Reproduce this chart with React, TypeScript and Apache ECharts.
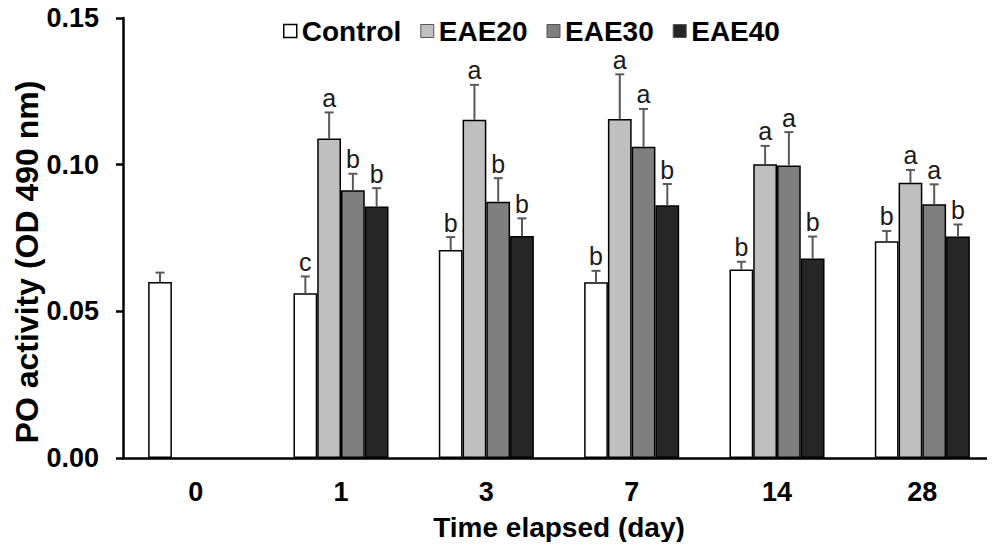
import React, { useEffect, useRef } from "react";
import * as echarts from "echarts";

const categories = ["0", "1", "3", "7", "14", "28"];
const seriesNames = ["Control", "EAE20", "EAE30", "EAE40"];
const controlValues = [0.06, 0.0562, 0.0709, 0.0599, 0.0643, 0.0739];
const eae20Values = [null, 0.1089, 0.1153, 0.1156, 0.1001, 0.0938];
const eae30Values = [null, 0.0913, 0.0874, 0.1061, 0.0997, 0.0865];
const eae40Values = [null, 0.0857, 0.0757, 0.0862, 0.068, 0.0755];
const controlErrors = [0.0032, 0.0057, 0.0044, 0.0039, 0.0026, 0.0035];
const eae20Errors = [null, 0.0089, 0.0119, 0.0152, 0.0063, 0.0044];
const eae30Errors = [null, 0.0056, 0.008, 0.0129, 0.0114, 0.0068];
const eae40Errors = [null, 0.0063, 0.006, 0.0072, 0.0075, 0.0041];
const controlLetters = ["", "c", "b", "b", "b", "b"];
const eae20Letters = ["", "a", "a", "a", "a", "a"];
const eae30Letters = ["", "b", "b", "a", "a", "a"];
const eae40Letters = ["", "b", "b", "b", "b", "b"];
const yTicks = [0, 0.05, 0.1, 0.15];
const yAxisTitle = "PO activity (OD 490 nm)";
const xAxisTitle = "Time elapsed (day)";

const FONT = 'Arial, "Liberation Sans", sans-serif';
const colors = ["#ffffff", "#bfbfbf", "#7f7f7f", "#262626"];
const CAT_GAP = 0.346;

export default function App() {
  const ref = useRef<HTMLDivElement>(null);
  useEffect(() => {
    if (!ref.current) return;
    const chart = echarts.init(ref.current, null, { renderer: "svg" });
    const values = [controlValues, eae20Values, eae30Values, eae40Values];
    const errors = [controlErrors, eae20Errors, eae30Errors, eae40Errors];
    const letters = [controlLetters, eae20Letters, eae30Letters, eae40Letters];

    const barSeries = seriesNames.map((name, i) => ({
      name,
      type: "bar",
      data: values[i],
      barGap: "0%",
      barCategoryGap: CAT_GAP * 100 + "%",
      itemStyle: { color: colors[i], borderColor: "#000", borderWidth: 1.5 },
      z: 2,
    }));

    const errSeries = seriesNames.map((name, i) => ({
      name: "err" + name,
      type: "custom",
      z: 5,
      data: values[i].map((v, k) => (v == null ? [k, null, null] : [k, v, errors[i][k]])),
      encode: { x: 0, y: 1 },
      renderItem: (params: any, api: any) => {
        const v = api.value(1);
        if (v == null || isNaN(v)) return null;
        const e = api.value(2);
        const idx = api.value(0);
        const catW = api.size([1, 0])[0];
        const bw = (catW * (1 - CAT_GAP)) / 4;
        const off = (i - 1.5) * bw;
        const p0 = api.coord([idx, v]);
        const p1 = api.coord([idx, v + e]);
        const x = p0[0] + off;
        const letter = letters[i][params.dataIndex];
        const children: any[] = [
          {
            type: "line",
            shape: { x1: x, y1: p0[1], x2: x, y2: p1[1] },
            style: { stroke: "#595959", lineWidth: 2 },
          },
          {
            type: "line",
            shape: { x1: x - 4.5, y1: p1[1], x2: x + 4.5, y2: p1[1] },
            style: { stroke: "#595959", lineWidth: 2 },
          },
        ];
        if (letter) {
          children.push({
            type: "text",
            style: {
              text: letter,
              x,
              y: p1[1] - 2,
              align: "center",
              verticalAlign: "bottom",
              fontSize: 25,
              fontFamily: FONT,
              fill: "#1a1a1a",
            },
          });
        }
        return { type: "group", children };
      },
    }));

    chart.setOption({
      animation: false,
      backgroundColor: "#ffffff",
      grid: { left: 123, right: 0, top: 18, bottom: 92, containLabel: false },
      legend: {
        left: 278,
        top: 12,
        itemWidth: 13,
        itemHeight: 13,
        itemGap: 19,
        textStyle: { fontSize: 28, fontWeight: "bold", fontFamily: FONT, color: "#000" },
        data: seriesNames.map((n, i) => ({
          name: n,
          icon: "rect",
          itemStyle: {
            color: colors[i],
            borderColor: i === 0 ? "#000" : "#555",
            borderWidth: i === 0 ? 1.5 : 1,
          },
        })),
      },
      graphic: [
        {
          type: "text",
          x: 27,
          y: 262,
          rotation: Math.PI / 2,
          style: {
            text: yAxisTitle,
            align: "center",
            verticalAlign: "middle",
            fontSize: 32,
            fontWeight: "bold",
            fontFamily: FONT,
            fill: "#000",
          },
        },
      ],
      xAxis: {
        type: "category",
        data: categories,
        name: xAxisTitle,
        nameLocation: "middle",
        nameGap: 55,
        nameTextStyle: { fontSize: 28, fontWeight: "bold", fontFamily: FONT, color: "#000" },
        axisLine: { lineStyle: { color: "#000", width: 2.5 } },
        axisTick: { length: 8, lineStyle: { color: "#000", width: 2.5 } },
        axisLabel: { margin: 20, fontSize: 27, fontWeight: "bold", fontFamily: FONT, color: "#000" },
      },
      yAxis: {
        type: "value",
        min: 0,
        max: 0.15,
        interval: 0.05,
        splitLine: { show: false },
        axisLine: { show: true, lineStyle: { color: "#000", width: 2.5 } },
        axisTick: { show: true, length: 7, lineStyle: { color: "#000", width: 2.5 } },
        axisLabel: {
          margin: 24,
          fontSize: 27,
          fontWeight: "bold",
          fontFamily: FONT,
          color: "#000",
          formatter: (v: number) => (yTicks.some((t) => Math.abs(t - v) < 1e-9) ? v.toFixed(2) : ""),
        },
      },
      series: [...barSeries, ...errSeries],
    });
    return () => chart.dispose();
  }, []);
  return <div ref={ref} style={{ width: 995, height: 550, margin: -8 }} />;
}
